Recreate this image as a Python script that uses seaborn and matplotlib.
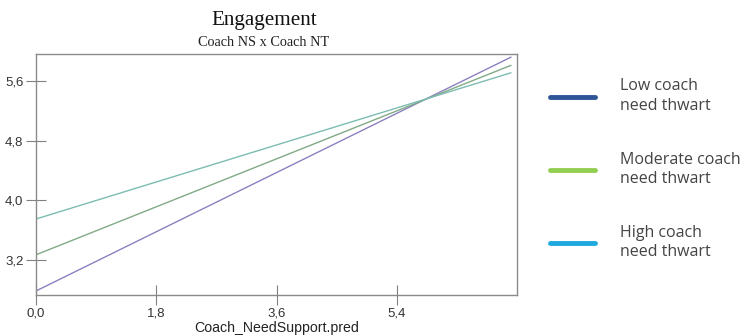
import matplotlib
matplotlib.use("Agg")
import matplotlib.pyplot as plt
import seaborn as sns
import pandas as pd
from matplotlib.lines import Line2D

sns.set_style("white")
plt.rcParams['font.family'] = ['Liberation Sans', 'DejaVu Sans']

# Data
x_values = [0.0, 7.11]
low_values = [2.785, 5.92]
moderate_values = [3.27, 5.81]
high_values = [3.75, 5.71]
series_names = ["Low coach\nneed thwart", "Moderate coach\nneed thwart", "High coach\nneed thwart"]
line_colors = ["#8c80c0", "#80aa86", "#7cbcb2"]
legend_colors = ["#2e5597", "#92cf50", "#1eaadf"]
x_ticks = [0.0, 1.8, 3.6, 5.4]
y_ticks = [3.2, 4.0, 4.8, 5.6]

rows = []
for name, vals in zip(series_names, [low_values, moderate_values, high_values]):
    for xv, yv in zip(x_values, vals):
        rows.append({"x": xv, "y": yv, "series": name})
df = pd.DataFrame(rows)

fig = plt.figure(figsize=(7.45, 3.36), dpi=100)
ax = fig.add_axes([36/745, 1-295/336, (517-36)/745, (295-54)/336])

sns.lineplot(data=df, x="x", y="y", hue="series", palette=line_colors,
             hue_order=series_names, ax=ax, linewidth=1.0, legend=False)

ax.set_xlim(0, 7.2)
ax.set_ylim(2.731, 5.962)
ax.set_xticks(x_ticks)
ax.set_yticks(y_ticks)
ax.set_xticklabels([f"{t:.1f}".replace(".", ",") for t in x_ticks], fontsize=9.5, color="#333333")
ax.set_yticklabels([f"{t:.1f}".replace(".", ",") for t in y_ticks], fontsize=9.5, color="#333333")
ax.tick_params(axis="both", bottom=True, left=True, direction="inout", length=14,
               width=0.8, color="#808080", pad=2)
ax.set_xlabel("Coach_NeedSupport.pred", fontsize=10.2, color="#222222", labelpad=1)
ax.set_ylabel("")
for sp in ax.spines.values():
    sp.set_visible(True)
    sp.set_color("#8a8a8a")
    sp.set_linewidth(1.0)

fig.text(264/745, 1-20/336, "Engagement", ha="center", va="center",
         fontsize=15.2, family=["Liberation Serif", "DejaVu Serif"], color="#111111")
fig.text(264/745, 1-42/336, "Coach NS x Coach NT", ha="center", va="center",
         fontsize=10.3, family=["Liberation Serif", "DejaVu Serif"], color="#222222")

handles = [Line2D([0], [0], color=c, linewidth=3.5) for c in legend_colors]
leg = fig.legend(handles, series_names, loc="upper left",
                 bbox_to_anchor=(536/745, 1-64/336), frameon=False,
                 handlelength=2.8, handletextpad=1.55, labelspacing=2.35,
                 prop={"family": ["Open Sans", "DejaVu Sans"], "size": 11.5})
for t in leg.get_texts():
    t.set_color("#444444")
    t.set_linespacing(1.3)

fig.savefig("out.png", dpi=100)
